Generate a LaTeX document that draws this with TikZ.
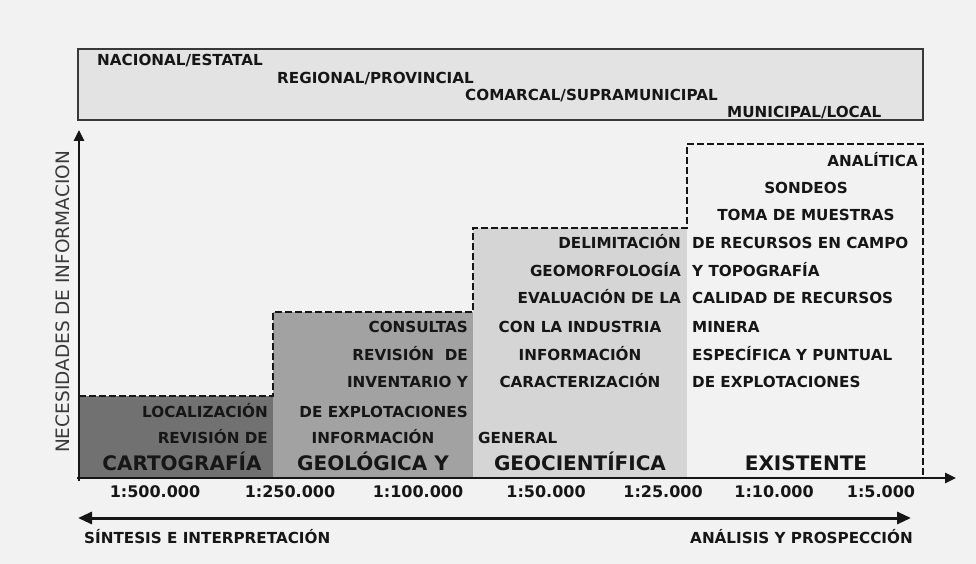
\documentclass[tikz,border=0pt]{standalone}
\usepackage{fontspec}
\setmainfont{DejaVu Sans}
\usetikzlibrary{arrows.meta}
\definecolor{bg}{HTML}{F2F2F2}
\definecolor{topfill}{HTML}{E3E3E3}
\definecolor{barA}{HTML}{717171}
\definecolor{barB}{HTML}{A2A2A2}
\definecolor{barC}{HTML}{D5D5D5}
\definecolor{ink}{HTML}{161616}
\tikzset{
  lbl/.style={inner sep=0pt, yshift=-2.5pt, text=ink, font=\fontsize{15.2}{17}\selectfont\bfseries},
  scl/.style={inner sep=0pt, yshift=-2pt, text=ink, font=\fontsize{16}{18}\selectfont\bfseries},
  biglbl/.style={inner sep=0pt, yshift=-3.5pt, text=ink, font=\fontsize{20}{22}\selectfont\bfseries},
  stepline/.style={draw=ink, line width=2.7pt, dash pattern=on 7pt off 3pt},
  axisline/.style={draw=ink, line width=2.6pt, -{Triangle[length=11pt,width=10pt]}},
  dblarrow/.style={draw=ink, line width=3pt, {Triangle[length=14pt,width=12pt]}-{Triangle[length=14pt,width=12pt]}},
}
\begin{document}
\begin{tikzpicture}[x=1pt,y=-1pt]
\path[fill=bg] (0,0) rectangle (976,564);
\useasboundingbox (0,0) rectangle (976,564);
% top box
\draw[fill=topfill, draw=ink!85, line width=2pt] (78,49) rectangle (923,120);
\node[lbl, anchor=mid west] (nac) at (97,60) {NACIONAL/ESTATAL};
\node[lbl, anchor=mid west] (reg) at (277,78) {REGIONAL/PROVINCIAL};
\node[lbl, anchor=mid west] (com) at (465,95) {COMARCAL/SUPRAMUNICIPAL};
\node[lbl, anchor=mid west] (mun) at (727,112) {MUNICIPAL/LOCAL};
% bars
\fill[barA] (79,396) rectangle (273,478);
\fill[barB] (273,312) rectangle (473,478);
\fill[barC] (473,228) rectangle (687,478);
\draw[stepline] (79,396) -- (273,396) -- (273,312) -- (473,312) -- (473,228) -- (687,228) -- (687,144) -- (923,144) -- (923,478);
% axes
\coordinate (o) at (79,478);
\coordinate (ytop) at (79,130);
\coordinate (xend) at (956,478);
\draw[axisline] (79,481) -- (ytop);
\draw[axisline] (77,478) -- (xend);
\node[inner sep=0pt, text=ink!85, rotate=90, font=\fontsize{18.5}{20}\selectfont] (ylab) at (63,302) {NECESIDADES DE INFORMACION};
% column 4
\node[lbl, anchor=mid east] (ana) at (918,161) {ANALÍTICA};
\node[lbl, anchor=mid] (son) at (806,188) {SONDEOS};
\node[lbl, anchor=mid] (tom) at (806,215) {TOMA DE MUESTRAS};
% rows
\node[lbl, anchor=mid east] (del) at (681,243) {DELIMITACIÓN};
\node[lbl, anchor=mid west] (drc) at (692,243) {DE RECURSOS EN CAMPO};
\node[lbl, anchor=mid east] (geo) at (681,271) {GEOMORFOLOGÍA};
\node[lbl, anchor=mid west] (top) at (692,271) {Y TOPOGRAFÍA};
\node[lbl, anchor=mid east] (eva) at (681,298) {EVALUACIÓN DE LA};
\node[lbl, anchor=mid west] (cal) at (692,298) {CALIDAD DE RECURSOS};
\node[lbl, anchor=mid east] (con) at (468,327) {CONSULTAS};
\node[lbl, anchor=mid] (cli) at (580,327) {CON LA INDUSTRIA};
\node[lbl, anchor=mid west] (min) at (692,327) {MINERA};
\node[lbl, anchor=mid east] (rev2) at (468,355) {REVISIÓN\ \ DE};
\node[lbl, anchor=mid] (inf3) at (580,355) {INFORMACIÓN};
\node[lbl, anchor=mid west] (esp) at (692,355) {ESPECÍFICA Y PUNTUAL};
\node[lbl, anchor=mid east] (inv) at (468,382) {INVENTARIO Y};
\node[lbl, anchor=mid] (car) at (580,382) {CARACTERIZACIÓN};
\node[lbl, anchor=mid west] (dex4) at (692,382) {DE EXPLOTACIONES};
\node[lbl, anchor=mid east] (loc) at (268,412) {LOCALIZACIÓN};
\node[lbl, anchor=mid east] (dex2) at (468,412) {DE EXPLOTACIONES};
\node[lbl, anchor=mid east] (rev1) at (268,438) {REVISIÓN DE};
\node[lbl, anchor=mid] (inf2) at (373,438) {INFORMACIÓN};
\node[lbl, anchor=mid west] (gen) at (478,438) {GENERAL};
\node[biglbl, anchor=mid] (cart) at (182,464) {CARTOGRAFÍA};
\node[biglbl, anchor=mid] (geol) at (373,464) {GEOLÓGICA Y};
\node[biglbl, anchor=mid] (geoc) at (580,464) {GEOCIENTÍFICA};
\node[biglbl, anchor=mid] (exi) at (806,464) {EXISTENTE};
% scales
\node[scl, anchor=mid] (s1) at (155,493) {1:500.000};
\node[scl, anchor=mid] (s2) at (290,493) {1:250.000};
\node[scl, anchor=mid] (s3) at (418,493) {1:100.000};
\node[scl, anchor=mid] (s4) at (546,493) {1:50.000};
\node[scl, anchor=mid] (s5) at (663,493) {1:25.000};
\node[scl, anchor=mid] (s6) at (774,493) {1:10.000};
\node[scl, anchor=mid] (s7) at (881,493) {1:5.000};
% bottom arrow
\coordinate (bl) at (78,518);
\coordinate (br) at (911,518);
\draw[dblarrow] (bl) -- (br);
\node[lbl, anchor=mid west] (sin) at (84,538) {SÍNTESIS E INTERPRETACIÓN};
\node[lbl, anchor=mid east] (anl) at (913,538) {ANÁLISIS Y PROSPECCIÓN};
\end{tikzpicture}
\end{document}
